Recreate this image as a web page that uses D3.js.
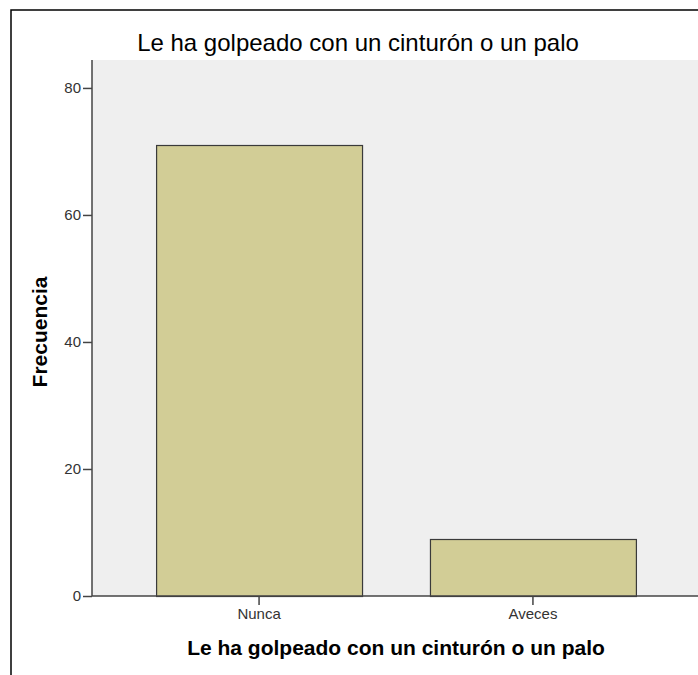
<!DOCTYPE html>
<html>
<head>
<meta charset="utf-8">
<script src="https://cdn.jsdelivr.net/npm/d3@7"></script>
<style>
  html, body { margin: 0; padding: 0; background: #fff; }
  svg { display: block; font-family: "Liberation Sans", Arial, sans-serif; }
</style>
</head>
<body>
<div id="chart"></div>
<script>
const categories = ['Nunca', 'Aveces'];
const frequencies = [71, 9];
const yTicks = [0, 20, 40, 60, 80];
const chartTitle = 'Le ha golpeado con un cinturón o un palo';
const xTitle = 'Le ha golpeado con un cinturón o un palo';
const yTitle = 'Frecuencia';

const width = 698, height = 675;
const plot = { left: 92, top: 60, right: 700, bottom: 596 };

const svg = d3.select('#chart').append('svg')
  .attr('width', width).attr('height', height)
  .attr('viewBox', `0 0 ${width} ${height}`);

// outer frame (right/bottom edges fall outside the picture)
svg.append('rect')
  .attr('x', 11).attr('y', 10)
  .attr('width', width + 20).attr('height', height + 20)
  .attr('fill', '#fff').attr('stroke', '#000').attr('stroke-width', 1.5);

const x = d3.scaleBand()
  .domain(categories)
  .range([plot.left, plot.right])
  .paddingInner(0.248)
  .paddingOuter(0.234);

const y = d3.scaleLinear()
  .domain([0, 84.4])
  .range([plot.bottom, plot.top]);

svg.append('rect')
  .attr('x', plot.left).attr('y', plot.top)
  .attr('width', plot.right - plot.left).attr('height', plot.bottom - plot.top)
  .attr('fill', '#efefef');

svg.append('g').selectAll('rect').data(frequencies).join('rect')
  .attr('x', (d, i) => x(categories[i]) + 0.5)
  .attr('y', d => Math.round(y(d)) + 0.5)
  .attr('width', x.bandwidth())
  .attr('height', d => plot.bottom - Math.round(y(d)))
  .attr('fill', '#d2cd96')
  .attr('stroke', '#3a3a3a')
  .attr('stroke-width', 1.2);

// y axis
const yAxis = svg.append('g')
  .attr('transform', `translate(${plot.left},0)`)
  .call(d3.axisLeft(y).tickValues(yTicks).tickSize(9).tickPadding(2).tickSizeOuter(0));
yAxis.select('.domain').attr('stroke', '#444').attr('stroke-width', 1.5)
  .attr('d', `M0,${plot.top}V${plot.bottom}`);
yAxis.selectAll('.tick line').attr('stroke', '#444').attr('stroke-width', 1.5);
yAxis.selectAll('.tick text')
  .attr('font-size', 15).attr('fill', '#333')
  .attr('font-family', '"Liberation Sans", Arial, sans-serif');

// x axis
const xAxis = svg.append('g')
  .attr('transform', `translate(0,${plot.bottom})`)
  .call(d3.axisBottom(x).tickSize(9).tickPadding(3).tickSizeOuter(0));
xAxis.select('.domain').attr('stroke', '#444').attr('stroke-width', 1.5)
  .attr('d', `M${plot.left},0H${plot.right}`);
xAxis.selectAll('.tick line').attr('stroke', '#444').attr('stroke-width', 1.5);
xAxis.selectAll('.tick text')
  .attr('font-size', 15).attr('fill', '#333')
  .attr('font-family', '"Liberation Sans", Arial, sans-serif');

// titles
svg.append('text')
  .attr('x', 358).attr('y', 51)
  .attr('text-anchor', 'middle')
  .attr('font-size', 24).attr('fill', '#000')
  .text(chartTitle);

svg.append('text')
  .attr('x', (plot.left + plot.right) / 2).attr('y', 655)
  .attr('text-anchor', 'middle')
  .attr('font-size', 21).attr('font-weight', 'bold')
  .attr('fill', '#000')
  .text(xTitle);

svg.append('text')
  .attr('transform', 'translate(47,332) rotate(-90)')
  .attr('text-anchor', 'middle')
  .attr('font-size', 21).attr('font-weight', 'bold')
  .attr('fill', '#000')
  .text(yTitle);
</script>
</body>
</html>
